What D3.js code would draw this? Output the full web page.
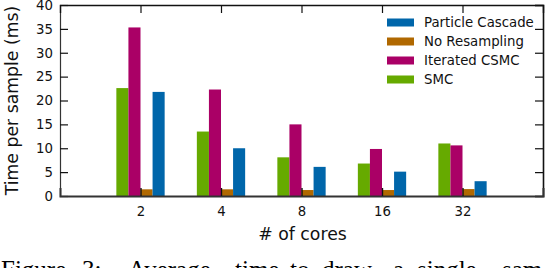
<!DOCTYPE html>
<html><head><meta charset="utf-8">
<script src="https://cdn.jsdelivr.net/npm/d3@7"></script>
<style>body{margin:0;background:#fff;} svg{display:block;}</style>
</head><body>
<svg id="c" width="546" height="268"></svg>
<script>
const categories = ["2", "4", "8", "16", "32"];
const seriesNames = ["SMC", "Iterated CSMC", "No Resampling", "Particle Cascade"];
const smc = [22.6, 13.5, 8.1, 6.8, 11.0];
const iteratedCSMC = [35.3, 22.3, 15.0, 9.85, 10.6];
const noResampling = [1.4, 1.4, 1.25, 1.25, 1.45];
const particleCascade = [21.8, 10.0, 6.1, 5.1, 3.1];
const colors = ["#66aa00", "#aa0066", "#b06800", "#0066aa"];
const yTicks = [0, 5, 10, 15, 20, 25, 30, 35, 40];
const legendOrder = ["Particle Cascade", "No Resampling", "Iterated CSMC", "SMC"];
const captionWords = ["Figure", "3:", "Average", "time", "to", "draw", "a", "single", "sam"];
const captionX = [1, 82, 128, 235, 290, 322, 393, 417, 502];

const values = [smc, iteratedCSMC, noResampling, particleCascade];
const svg = d3.select("#c");
const L = 60, R = 543, T = 5, B = 196;
const x = d3.scaleLinear().domain([0, categories.length + 1]).range([L, R]);
const y = d3.scaleLinear().domain([0, 40]).range([B, T]);
const bw = 0.15;
const font = "DejaVu Sans, sans-serif";

// bars
values.forEach((vals, s) => {
  svg.append("g").selectAll("rect").data(vals).join("rect")
    .attr("x", (d, i) => x(i + 1 + (s - 2) * bw))
    .attr("width", x(bw) - x(0))
    .attr("y", d => y(d))
    .attr("height", d => y(0) - y(d))
    .attr("fill", colors[s]);
});

// axes
const ax = d3.axisLeft(y).tickValues(yTicks).tickSize(-8).tickPadding(7);
const gl = svg.append("g").attr("transform", `translate(${L},0)`).call(ax);
gl.select(".domain").attr("stroke", "#333").attr("stroke-width", 1.2);
gl.selectAll("line").attr("stroke", "#111").attr("stroke-width", 1.2);
gl.selectAll("text").attr("font-family", font).attr("font-size", 13.3).attr("fill", "#111");

const ar = d3.axisRight(y).tickValues(yTicks).tickSize(-8).tickFormat("");
const gr = svg.append("g").attr("transform", `translate(${R},0)`).call(ar);
gr.select(".domain").attr("stroke", "#111").attr("stroke-width", 1.6);
gr.selectAll("line").attr("stroke", "#111").attr("stroke-width", 1.2);

const at = d3.axisTop(x).tickValues(d3.range(1, categories.length + 1)).tickSize(-8).tickFormat("");
const gt = svg.append("g").attr("transform", `translate(0,${T})`).call(at);
gt.select(".domain").attr("stroke", "#111").attr("stroke-width", 1.4);
gt.selectAll("line").attr("stroke", "#111").attr("stroke-width", 1.2);

const ab = d3.axisBottom(x).tickValues(d3.range(1, categories.length + 1))
  .tickSize(-8).tickPadding(11).tickFormat(d => categories[d - 1]);
const gb = svg.append("g").attr("transform", `translate(0,${B})`).call(ab);
gb.select(".domain").attr("stroke", "#333").attr("stroke-width", 2);
gb.selectAll("line").attr("stroke", "#111").attr("stroke-width", 1.4);
gb.selectAll("text").attr("font-family", font).attr("font-size", 13.3).attr("fill", "#111");

// axis titles
svg.append("text").attr("x", (L + R) / 2 + 1).attr("y", 240)
  .attr("text-anchor", "middle").attr("font-family", font).attr("font-size", 17.3)
  .attr("fill", "#111").text("# of cores");
svg.append("text").attr("transform", `translate(18,${(T + B) / 2}) rotate(-90)`)
  .attr("text-anchor", "middle").attr("font-family", font).attr("font-size", 17.3)
  .attr("fill", "#111").text("Time per sample (ms)");

// legend
const lg = svg.append("g");
legendOrder.forEach((name, i) => {
  const s = seriesNames.indexOf(name);
  const cy = 22.5 + i * 19;
  lg.append("rect").attr("x", 387).attr("y", cy - 4).attr("width", 27).attr("height", 8)
    .attr("fill", colors[s]);
  lg.append("text").attr("x", 424).attr("y", cy + 4.8).attr("font-family", font)
    .attr("font-size", 13.3).attr("fill", "#111").text(name);
});

// caption (cut off at the bottom edge, as in the reference)
captionWords.forEach((w, i) => {
  svg.append("text").attr("x", captionX[i]).attr("y", 278)
    .attr("font-family", "Liberation Serif, serif").attr("font-size", 25)
    .attr("fill", "#000").text(w);
});
</script>
</body></html>
